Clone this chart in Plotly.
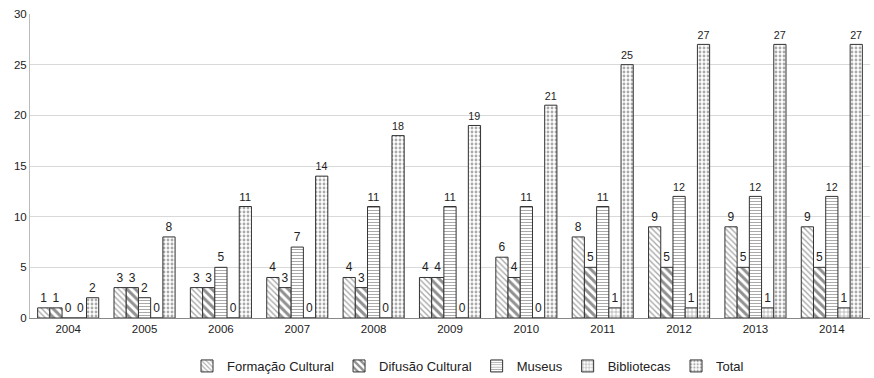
import plotly.graph_objects as go

years = ["2004", "2005", "2006", "2007", "2008", "2009", "2010", "2011", "2012", "2013", "2014"]
formacao = [1, 3, 3, 4, 4, 4, 6, 8, 9, 9, 9]
difusao = [1, 3, 3, 3, 3, 4, 4, 5, 5, 5, 5]
museus = [0, 2, 5, 7, 11, 11, 11, 11, 12, 12, 12]
bibliotecas = [0, 0, 0, 0, 0, 0, 0, 1, 1, 1, 1]
total = [2, 8, 11, 14, 18, 19, 21, 25, 27, 27, 27]

FONT = "Liberation Sans, Arial, sans-serif"

series = [
    ("Formação Cultural", formacao, dict(shape="\\", size=4, solidity=0.35, fgcolor="#555555")),
    ("Difusão Cultural", difusao, dict(shape="\\", size=6, solidity=0.5, fgcolor="#222222")),
    ("Museus", museus, dict(shape="-", size=3, solidity=0.35, fgcolor="#555555")),
    ("Bibliotecas", bibliotecas, dict(shape="+", size=4, solidity=0.3, fgcolor="#444444")),
    ("Total", total, dict(shape=".", size=4, solidity=0.4, fgcolor="#555555")),
]

fig = go.Figure()
for name, vals, pat in series:
    fig.add_trace(go.Bar(
        name=name, x=years, y=vals,
        text=[str(v) for v in vals], textposition="outside",
        textfont=dict(size=12, color="#222222", family=FONT),
        cliponaxis=False,
        marker=dict(color="white", line=dict(color="#333333", width=1),
                    pattern=dict(bgcolor="white", **pat)),
    ))

fig.update_layout(
    width=874, height=378,
    margin=dict(l=30, r=4, t=14, b=60, autoexpand=False),
    paper_bgcolor="white", plot_bgcolor="white",
    barmode="group", bargap=0.2, bargroupgap=0,
    font=dict(family=FONT, size=11.5, color="#222222"),
    showlegend=True,
    legend=dict(orientation="h", x=(468 - 30) / 840, xanchor="center",
                y=-48 / 304, yanchor="middle",
                font=dict(size=13, family=FONT), itemwidth=30, tracegroupgap=0),
    xaxis=dict(showline=True, linecolor="#888888", linewidth=1, ticks="", showgrid=False),
    yaxis=dict(range=[0, 30], dtick=5, showgrid=True, gridcolor="#d9d9d9",
               showline=True, linecolor="#bbbbbb", zeroline=False, ticks=""),
)

fig.write_html("out.html")
